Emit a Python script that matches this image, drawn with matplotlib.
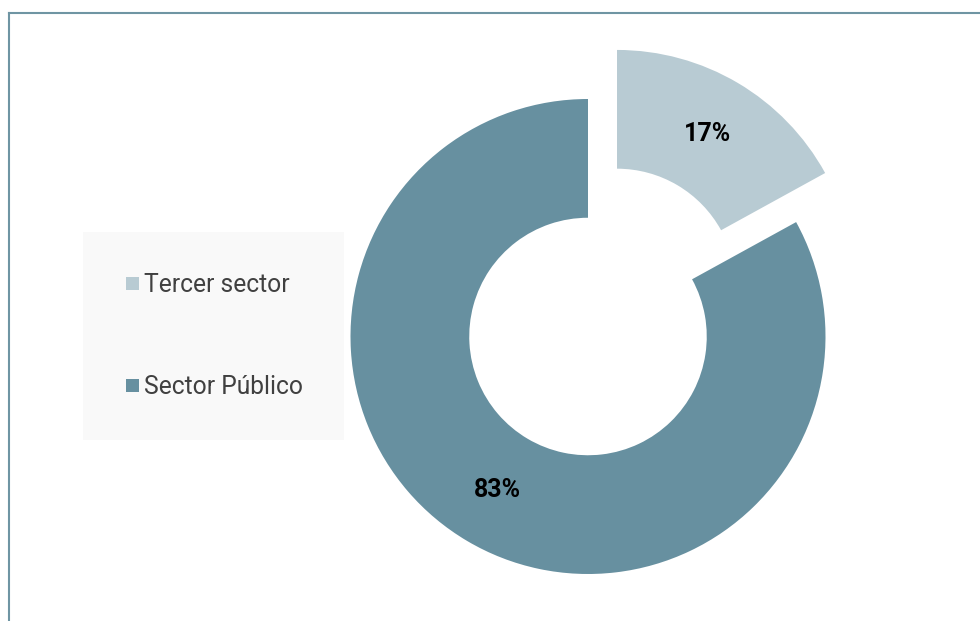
import matplotlib
matplotlib.use("Agg")
import matplotlib.pyplot as plt
from matplotlib.patches import Rectangle
from matplotlib.lines import Line2D

categories = ["Tercer sector", "Sector Público"]
values = [17, 83]
colors = ["#b8cbd3", "#6790a0"]
explode = [0.24, 0.0]

W, H = 980, 621
fig = plt.figure(figsize=(W / 100, H / 100), dpi=100)
fig.patch.set_facecolor("white")

ax = fig.add_axes([0, 0, 1, 1])
cx, cy, R = 588.0, 336.5, 237.5

wedges, texts, autotexts = ax.pie(
    values, colors=colors, explode=explode, startangle=90, counterclock=False,
    radius=1.0, wedgeprops=dict(width=0.5, linewidth=0),
    autopct=lambda p: f"{p:.0f}%", pctdistance=0.75,
    textprops=dict(fontsize=18, fontweight="bold", color="black", family="Roboto"),
)
ax.set_xlim(-cx / R, (W - cx) / R)
ax.set_ylim(-(H - cy) / R, cy / R)
ax.set_aspect("auto")
ax.axis("off")

# legend box
fig.patches.append(Rectangle((83 / W, 1 - 440 / H), (344 - 83) / W, (440 - 232) / H,
                             transform=fig.transFigure, facecolor="#f9f9f9",
                             edgecolor="none", zorder=0))
leg_y = [283, 385]
for name, col, y in zip(categories, colors, leg_y):
    fig.patches.append(Rectangle((126 / W, 1 - (y + 6.5) / H), 13 / W, 13 / H,
                                 transform=fig.transFigure, facecolor=col,
                                 edgecolor="none", zorder=2))
    fig.text(144 / W, 1 - (y + 1.5) / H, name, fontsize=17.7, family="Roboto",
             color="#404040", va="center", ha="left")

# border
bc = "#6f95a3"
fig.add_artist(Line2D([8.5 / W, 8.5 / W], [0, 1 - 13 / H], transform=fig.transFigure,
                      color=bc, lw=1.5))
fig.add_artist(Line2D([8.5 / W, 1], [1 - 13 / H, 1 - 13 / H], transform=fig.transFigure,
                      color=bc, lw=1.5))

fig.savefig("out.png", dpi=100, facecolor="white")
